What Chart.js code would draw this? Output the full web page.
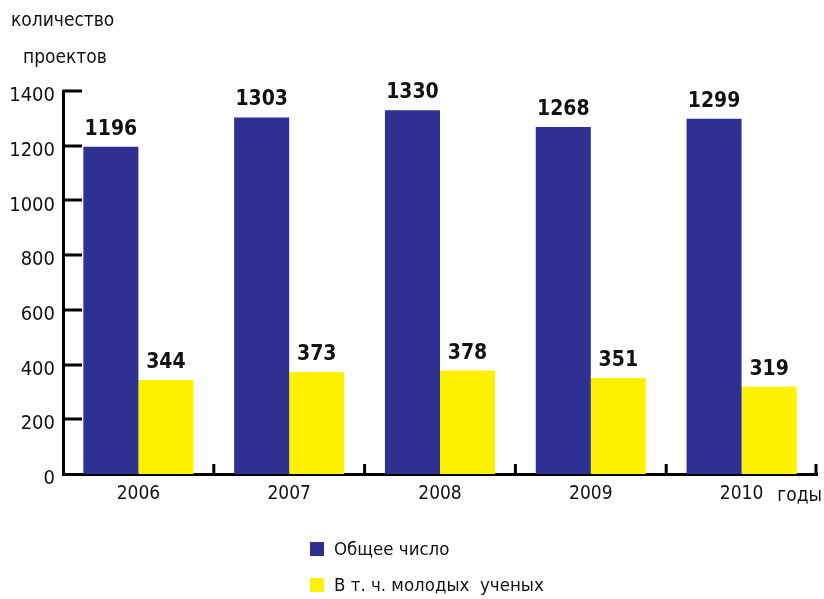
<!DOCTYPE html>
<html>
<head>
<meta charset="utf-8">
<script src="https://cdn.jsdelivr.net/npm/chart.js@4/dist/chart.umd.min.js"></script>
<style>
  body { margin: 0; background: #fff; }
  #wrap { position: relative; width: 824px; height: 599px; }
  #chart { position: absolute; left: 0; top: 0; }
  .ttl { position: absolute; font: 19px "Liberation Sans Narrow", "DejaVu Sans Condensed", sans-serif; color: #111; }
  #legend { position: absolute; left: 310px; top: 538px; font: 18.5px "Liberation Sans Narrow", "DejaVu Sans Condensed", sans-serif; color: #111; }
  .li { height: 36px; display: flex; align-items: flex-start; }
  .sw { width: 14px; height: 14px; margin-top: 4px; margin-right: 10px; }
</style>
</head>
<body>
<div id="wrap">
  <canvas id="chart" width="824" height="599"></canvas>
  <div class="ttl" style="left:11px; top:8px;">количество</div>
  <div class="ttl" style="left:23px; top:45px;">проектов</div>
  <div id="legend"></div>
</div>
<script>
var years = ["2006", "2007", "2008", "2009", "2010"];
var total = [1196, 1303, 1330, 1268, 1299];
var young = [344, 373, 378, 351, 319];
var series_names = ["Общее число", "В т. ч. молодых  ученых"];
var series_colors = ["#2E3192", "#FFF200"];
var y_max = 1400;
var y_step = 200;
var x_unit = "годы";

var FONT = '"Liberation Sans Narrow", "DejaVu Sans Condensed", sans-serif';
Chart.defaults.font.family = FONT;
Chart.defaults.color = "#111";

// axis ticks drawn inward, bar values and the unit label
var decor = {
    id: "decor",
    afterDraw: function(chart) {
        var ctx = chart.ctx;
        var area = chart.chartArea;
        var xs = chart.scales.x;
        var ys = chart.scales.y;
        ctx.save();
        ctx.strokeStyle = "#000";
        ctx.lineWidth = 3;
        // y ticks to the right of the axis
        for (var v = y_step; v <= y_max; v += y_step) {
            var py = Math.round(ys.getPixelForValue(v));
            ctx.beginPath();
            ctx.moveTo(area.left, py);
            ctx.lineTo(area.left + 19, py);
            ctx.stroke();
        }
        // x ticks between categories
        for (var i = 0; i < years.length; i++) {
            var px;
            if (i < years.length - 1) {
                px = (xs.getPixelForValue(i) + xs.getPixelForValue(i + 1)) / 2;
            } else {
                px = area.right - 1;
            }
            ctx.beginPath();
            ctx.moveTo(px, area.bottom);
            ctx.lineTo(px, area.bottom - 10);
            ctx.stroke();
        }
        // values above bars
        ctx.fillStyle = "#111";
        ctx.font = "bold 21px " + FONT;
        ctx.textAlign = "center";
        ctx.textBaseline = "bottom";
        chart.data.datasets.forEach(function(ds, di) {
            var meta = chart.getDatasetMeta(di);
            meta.data.forEach(function(bar, j) {
                ctx.fillText(String(ds.data[j]), bar.x, bar.y - 7);
            });
        });
        // unit label
        ctx.font = "19px " + FONT;
        ctx.textAlign = "right";
        ctx.textBaseline = "middle";
        ctx.fillText(x_unit, 822, area.bottom + 22);
        ctx.restore();
    }
};

var datasets = [total, young].map(function(d, i) {
    return {
        label: series_names[i],
        data: d,
        backgroundColor: series_colors[i],
        borderWidth: 0,
        categoryPercentage: 0.73,
        barPercentage: 1.0
    };
});

var barChart = new Chart(document.getElementById("chart").getContext("2d"), {
    type: "bar",
    data: { labels: years, datasets: datasets },
    plugins: [decor],
    options: {
        responsive: false,
        animation: false,
        layout: { padding: { top: 91, right: 7, left: 0, bottom: 0 } },
        plugins: { legend: { display: false }, tooltip: { enabled: false } },
        scales: {
            x: {
                grid: { display: false, drawTicks: false },
                border: { display: true, color: "#000", width: 3 },
                ticks: { font: { size: 19 }, padding: 9, color: "#111" },
                afterFit: function(scale) { scale.height = 125; }
            },
            y: {
                min: 0,
                max: y_max,
                grid: { display: false, drawTicks: false },
                border: { display: true, color: "#000", width: 3 },
                ticks: {
                    stepSize: y_step,
                    font: { size: 20 },
                    padding: 8,
                    labelOffset: 5,
                    color: "#111",
                    callback: function(value) { return String(value); }
                },
                afterFit: function(scale) { scale.width = 63; }
            }
        }
    }
});

// legend
var lg = document.getElementById("legend");
series_names.forEach(function(name, i) {
    var row = document.createElement("div");
    row.className = "li";
    row.innerHTML = '<div class="sw" style="background:' + series_colors[i] + '"></div><div>' + name.replace(/  /g, " &nbsp;") + '</div>';
    lg.appendChild(row);
});
</script>
</body>
</html>
